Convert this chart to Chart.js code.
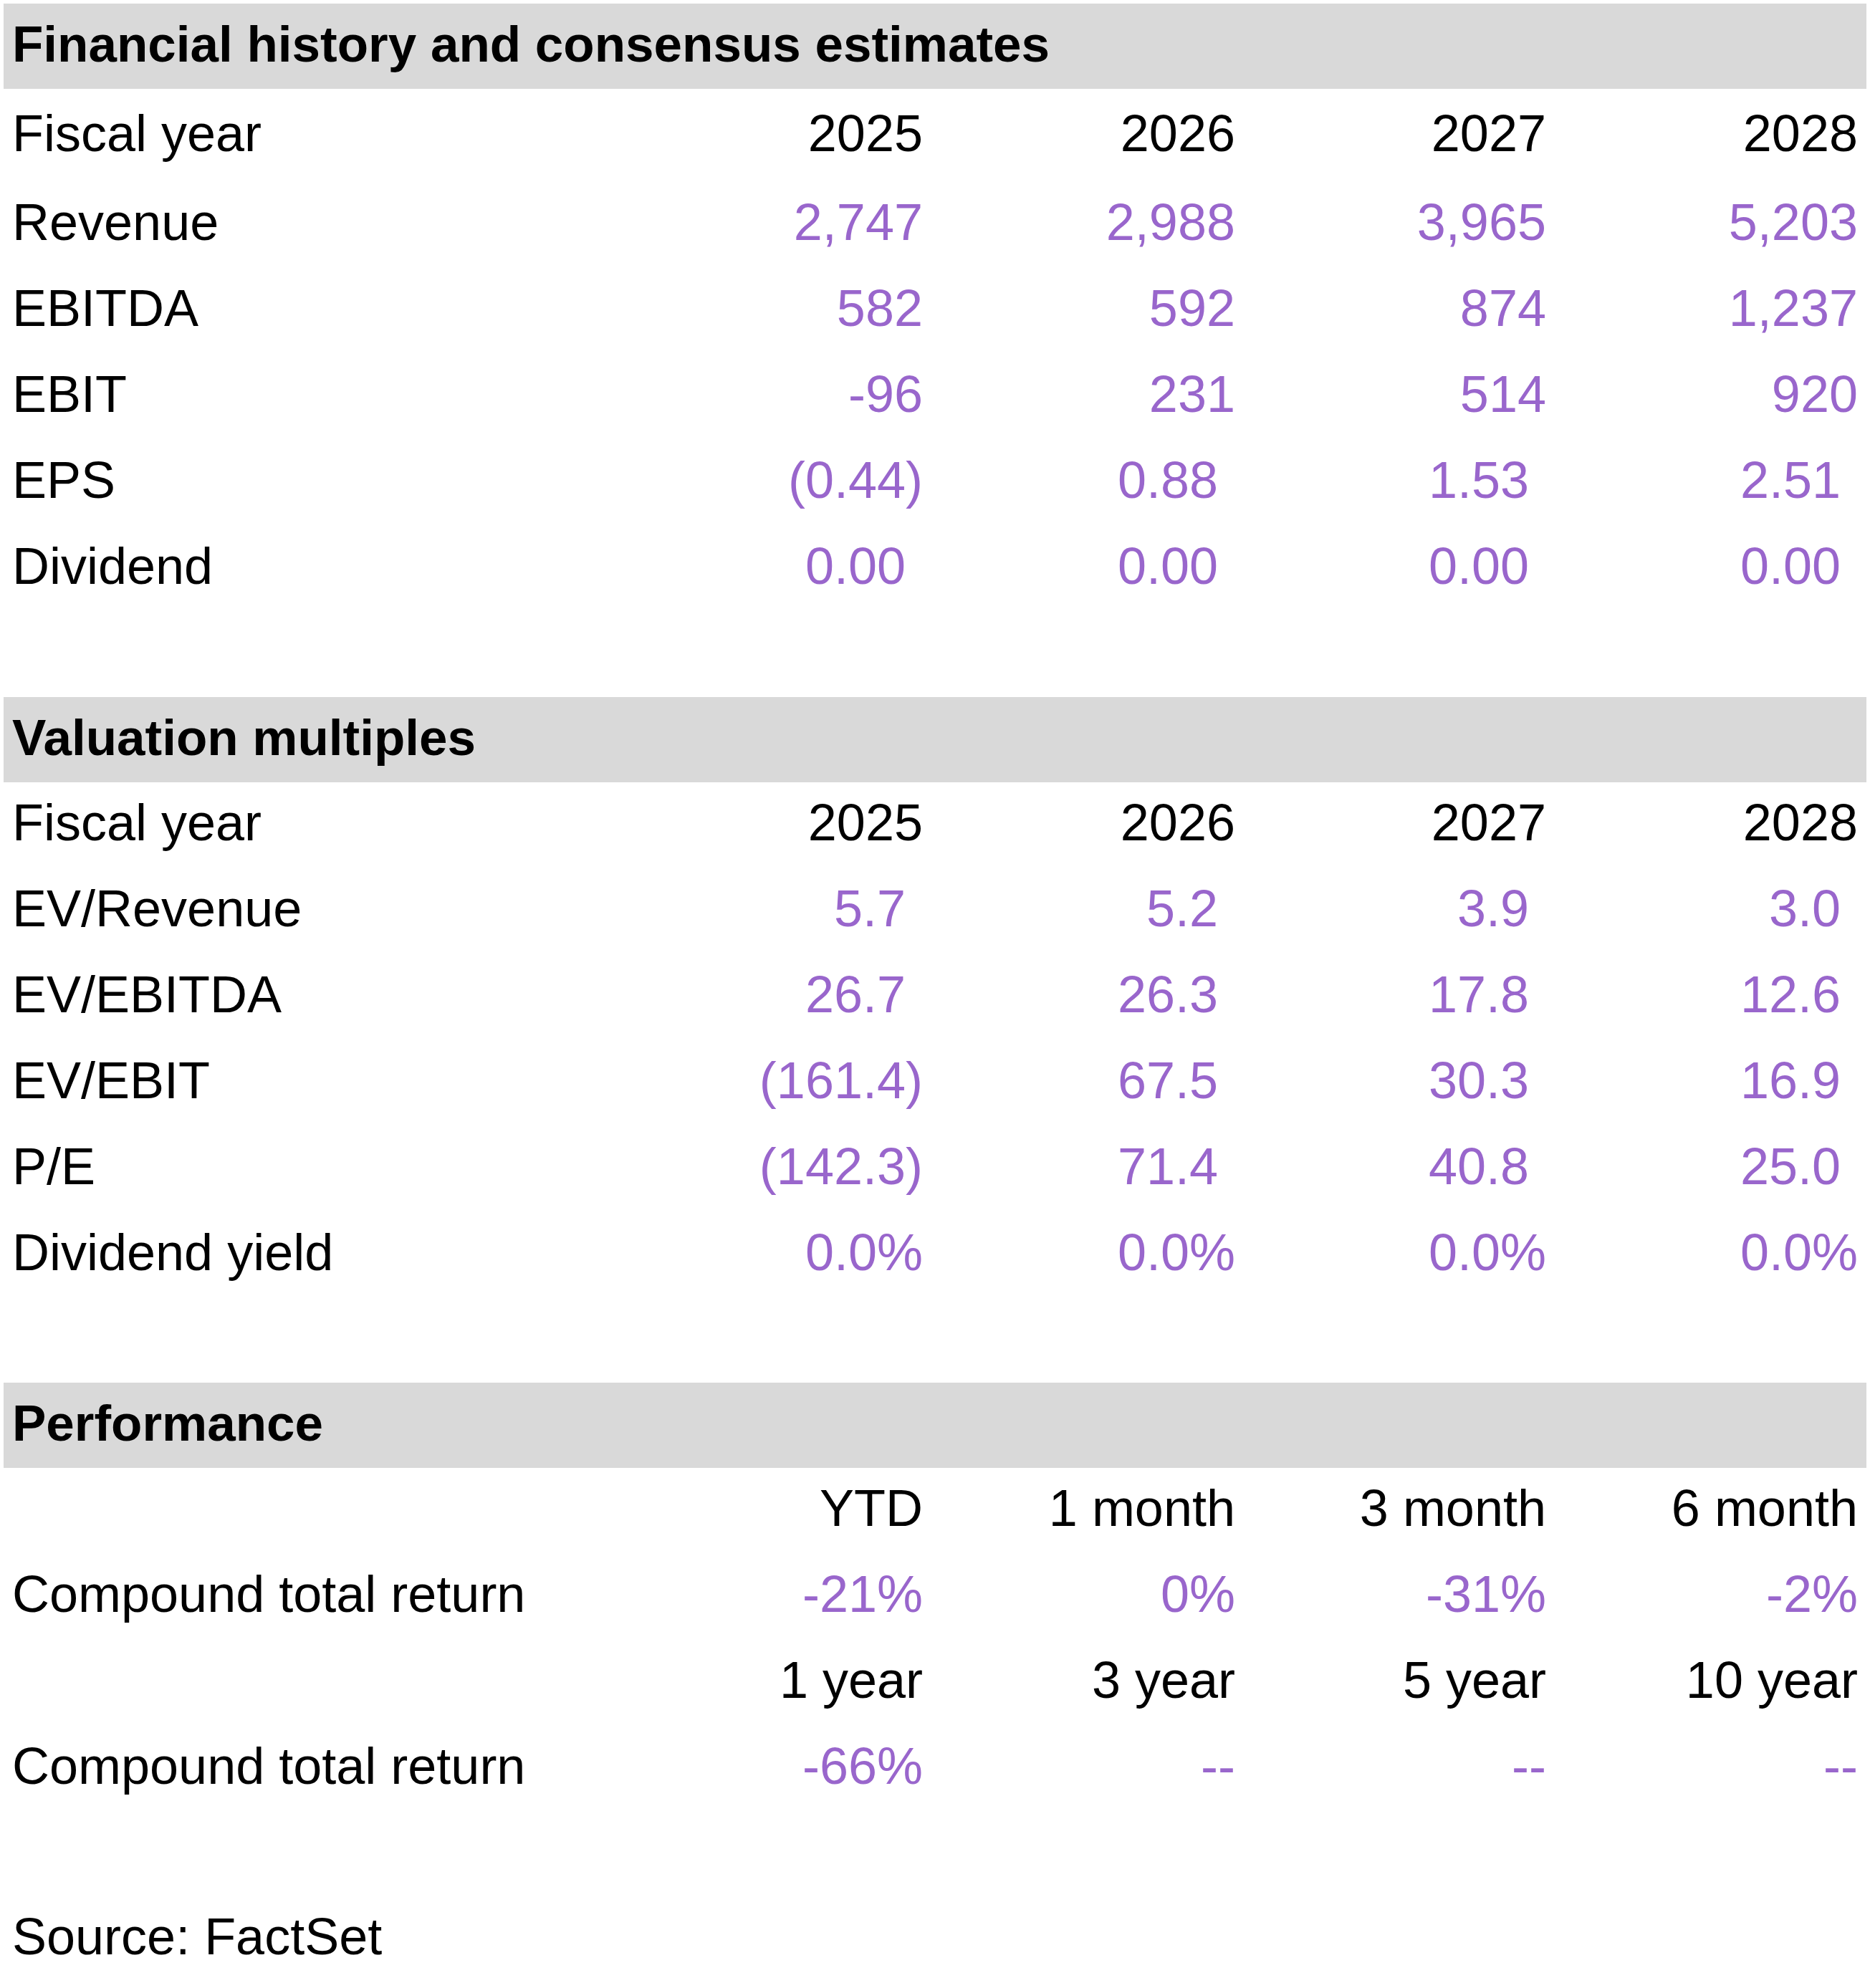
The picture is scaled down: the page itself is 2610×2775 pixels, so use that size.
<!DOCTYPE html>
<html>
<head>
<meta charset="utf-8">
<script src="https://cdn.jsdelivr.net/npm/chart.js@4.4.0/dist/chart.umd.min.js"></script>
<style>
  html, body { margin: 0; padding: 0; background: #fff; }
  #wrap { width: 2610px; height: 2775px; }
</style>
</head>
<body>
<div id="wrap"><canvas id="tbl"></canvas></div>
<script>
// table data
const years = ['2025', '2026', '2027', '2028'];
const finLabels = ['Revenue', 'EBITDA', 'EBIT', 'EPS', 'Dividend'];
const finValues = [
    ['2,747', '2,988', '3,965', '5,203'],
    ['582', '592', '874', '1,237'],
    ['-96', '231', '514', '920'],
    ['(0.44)', '0.88', '1.53', '2.51'],
    ['0.00', '0.00', '0.00', '0.00']
];
const finParen = [false, false, false, true, true];

const valLabels = ['EV/Revenue', 'EV/EBITDA', 'EV/EBIT', 'P/E', 'Dividend yield'];
const valValues = [
    ['5.7', '5.2', '3.9', '3.0'],
    ['26.7', '26.3', '17.8', '12.6'],
    ['(161.4)', '67.5', '30.3', '16.9'],
    ['(142.3)', '71.4', '40.8', '25.0'],
    ['0.0%', '0.0%', '0.0%', '0.0%']
];
const valParen = [true, true, true, true, false];

const perfPeriods1 = ['YTD', '1 month', '3 month', '6 month'];
const perfReturns1 = ['-21%', '0%', '-31%', '-2%'];
const perfPeriods2 = ['1 year', '3 year', '5 year', '10 year'];
const perfReturns2 = ['-66%', '--', '--', '--'];

const titles = ['Financial history and consensus estimates', 'Valuation multiples', 'Performance'];
const sourceNote = 'Source: FactSet';

// layout (page pixels)
const colRight = [1288, 1724, 2158, 2593];
const labelX = 17;
const bandY = [[5, 124], [973, 1092], [1930, 2049]];
const finRows = [191, 315, 435, 555, 675, 795];
const valRows = [1153, 1273, 1393, 1513, 1633, 1753];
const perfRows = [2110, 2230, 2350, 2470];
const sourceY = 2708;

const PURPLE = '#9966cc';
const FONT = '"Liberation Sans", Arial, sans-serif';

const tablePlugin = {
    id: 'tablePlugin',
    afterDraw(chart) {
        const ctx = chart.ctx;
        const xs = chart.scales.x, ys = chart.scales.y;
        const X = v => xs.getPixelForValue(v);
        const Y = v => ys.getPixelForValue(v);
        ctx.save();
        ctx.textBaseline = 'middle';

        // bands + titles
        bandY.forEach((b, i) => {
            ctx.fillStyle = '#d9d9d9';
            ctx.fillRect(X(5), Y(b[0]), X(2605) - X(5), Y(b[1]) - Y(b[0]));
            ctx.fillStyle = '#000';
            ctx.font = 'bold 71px ' + FONT;
            ctx.textAlign = 'left';
            ctx.fillText(titles[i], X(labelX), Y((b[0] + b[1]) / 2 + 2));
        });

        ctx.font = '72px ' + FONT;
        const parenW = ctx.measureText(')').width;

        function text(s, x, y, color, align) {
            ctx.fillStyle = color;
            ctx.textAlign = align;
            ctx.fillText(s, X(x), Y(y));
        }
        function row(label, vals, y, color, paren) {
            if (label) text(label, labelX, y, '#000', 'left');
            vals.forEach((v, j) => {
                const shift = paren && !v.endsWith(')') ? parenW : 0;
                text(v, colRight[j] - shift, y, color, 'right');
            });
        }

        row('Fiscal year', years, finRows[0], '#000', false);
        finLabels.forEach((l, i) => row(l, finValues[i], finRows[i + 1], PURPLE, finParen[i]));

        row('Fiscal year', years, valRows[0], '#000', false);
        valLabels.forEach((l, i) => row(l, valValues[i], valRows[i + 1], PURPLE, valParen[i]));

        row('', perfPeriods1, perfRows[0], '#000', false);
        row('Compound total return', perfReturns1, perfRows[1], PURPLE, false);
        row('', perfPeriods2, perfRows[2], '#000', false);
        row('Compound total return', perfReturns2, perfRows[3], PURPLE, false);

        text(sourceNote, labelX, sourceY, '#000', 'left');
        ctx.restore();
    }
};

new Chart(document.getElementById('tbl'), {
    type: 'scatter',
    data: { datasets: [{ data: [] }] },
    options: {
        responsive: true,
        maintainAspectRatio: false,
        animation: false,
        layout: { padding: 0 },
        plugins: { legend: { display: false }, tooltip: { enabled: false } },
        scales: {
            x: { type: 'linear', min: 0, max: 2610, display: false },
            y: { type: 'linear', min: 0, max: 2775, reverse: true, display: false }
        }
    },
    plugins: [tablePlugin]
});
</script>
</body>
</html>
